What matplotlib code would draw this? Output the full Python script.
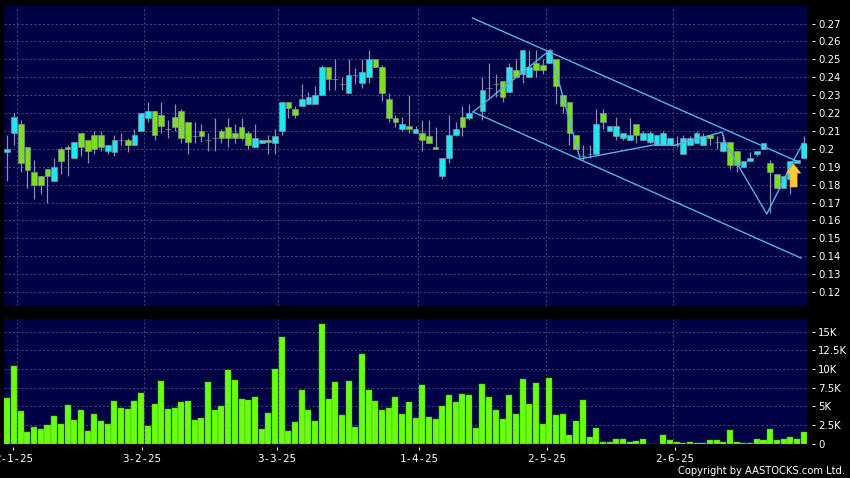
import numpy as np
import matplotlib
matplotlib.use("Agg")
import matplotlib.pyplot as plt
from matplotlib.ticker import FuncFormatter

nan = float("nan")
opens = [198,209,214,201,187,185,189,182,200,201,195,209,205,208,208,199,198,205,205,202,
         210,217,221,219,211,218,221,215,207,210,205,206,210,212,209,212,209,201,203,205,
         203,210,226,222,224,225,225,230,246,239,236,231,241,237,240,250,246,228,217,211,
         213,209,209,207,201,185,195,208,218,217,nan,221,234,236,238,232,244,242,240,248,
         247,248,250,230,226,208,196,197,197,220,210,207,206,205,214,205,204,202,202,202,
         202,197,202,203,202,208,204,199,204,199,190,193,197,200,192,186,178,183,192,195]
closes = [200,218,192,188,180,180,185,190,193,200,204,201,199,200,201,202,205,205,202,208,
          220,221,208,213,211,212,206,204,207,207,205,206,206,206,206,206,202,206,205,204,
          207,226,223,219,228,229,230,246,239,239,236,241,241,243,250,246,231,217,215,214,
          211,211,205,203,200,195,208,211,212,220,nan,233,234,236,229,246,240,255,246,244,
          244,255,235,224,209,200,196,197,214,215,213,213,209,208,208,209,209,208,209,206,
          202,206,206,209,207,206,204,204,191,191,193,195,199,203,187,178,185,193,194,203]
highs = [208,220,216,201,194,185,189,195,201,202,204,209,205,210,210,202,208,209,206,211,
         220,226,221,226,216,225,222,215,215,214,209,217,211,217,214,217,210,214,205,208,
         211,226,226,224,236,232,235,247,246,250,240,250,245,250,255,250,247,231,219,218,
         230,213,216,216,212,195,219,215,224,225,nan,240,248,242,238,248,250,255,255,255,
         250,255,250,230,226,208,202,202,222,222,213,218,209,217,214,210,210,208,210,206,
         207,208,207,210,209,208,207,208,204,199,193,198,199,203,194,186,185,193,194,207]
lows = [182,202,187,178,172,175,170,182,186,185,195,196,192,197,199,197,196,202,198,202,
        210,215,205,209,206,210,203,197,203,204,199,199,203,201,203,205,200,201,203,197,
        197,208,217,217,224,225,225,230,233,233,233,231,236,234,237,246,227,215,212,210,
        209,209,199,203,200,183,192,207,207,216,nan,216,229,229,226,232,240,237,240,240,
        242,248,225,220,202,200,194,195,197,211,210,205,205,205,203,205,203,202,202,202,
        201,197,202,203,202,202,200,198,189,187,190,193,196,200,164,178,178,175,192,195]
volumes = [6080,10450,4325,1577,2162,1937,2478,3694,2613,5180,3108,4460,1712,3964,3063,2658,5721,4775,4595,5721,
           6757,2342,5270,8379,4595,4775,5586,5676,3198,3424,8289,4550,5045,9820,8560,5992,5811,6172,1937,4054,
           9956,14236,1667,2883,7163,4505,2973,15993,5992,8199,3784,8424,2162,12073,7208,5676,4460,4775,6217,3919,
           5586,3424,7884,3514,3289,5045,6487,5541,6667,6532,2072,7974,6172,4460,3244,6532,3919,8695,5361,8109,
           2568,8830,3829,3919,1171,3018,5857,901,2072,180,135,541,631,180,270,541,0,0,1081,450,
           180,90,135,45,45,450,450,180,1757,180,45,45,541,450,1937,450,586,811,586,1487]

date_labels = ["2-1-25", "3-2-25", "3-3-25", "1-4-25", "2-5-25", "2-6-25"]
date_ticks = [0.88, 20.07, 40.3, 61.5, 80.65, 99.8]
date_grid = [1.48, 20.4, 40.5, 61.4, 80.5, 99.5]
price_ticks = [0.12,0.13,0.14,0.15,0.16,0.17,0.18,0.19,0.20,0.21,0.22,0.23,0.24,0.25,0.26,0.27]
volume_ticks = [0, 2500, 5000, 7500, 10000, 12500, 15000]
volume_labels = ["0", "2.5K", "5K", "7.5K", "10K", "12.5K", "15K"]

zig_x = [69.6, 81.1, 85.6, 96.5, 99.8, 106.8, 107.3, 109.1, 113.5, 117.5, 118.9]
zig_y = [0.2206, 0.2552, 0.1944, 0.2021, 0.2021, 0.2094, 0.2032, 0.1915, 0.1636, 0.1937, 0.2032]
chan_top_x = [69.5, 118.3]
chan_top_y = [0.2731, 0.1926]
chan_bot_x = [69.6, 118.6]
chan_bot_y = [0.2206, 0.1390]
signal_x = 117.5
signal_tip = 0.1915
signal_tail = 0.1787

NAVY = "#000044"
GRID = "#45457C"
CYAN = "#22E4F2"
GREEN = "#7CDE1E"
EDGE = "#7F9A9A"
WICK = "#8E8EA4"
LINE = "#55B4E6"
VOL = "#6AFF10"
VOL_EDGE = "#48B810"

W, H = 850, 478
fig = plt.figure(figsize=(W / 100, H / 100), dpi=100, facecolor="black")

def panel(left, top, right, bottom):
    return fig.add_axes([left / W, 1 - bottom / H, (right - left) / W, (bottom - top) / H])

ax = panel(4, 6, 807, 306)
vx = panel(4, 319, 807, 443.5)

o = np.array(opens) / 1000
c = np.array(closes) / 1000
hi = np.array(highs) / 1000
lo = np.array(lows) / 1000
idx = np.arange(len(o))
up = c >= o
dn = c < o

for a in (ax, vx):
    a.set_facecolor(NAVY)
    a.set_xlim(-0.5, 119.5)
    for s in a.spines.values():
        s.set_visible(False)
    a.spines["right"].set_visible(True)
    a.spines["right"].set_position(("outward", 3.4))
    a.spines["right"].set_alpha(0)
    a.yaxis.tick_right()
    a.tick_params(axis="y", colors="white", length=1.9, width=0.7, pad=2.6, labelsize=7.3)
    a.set_axisbelow(True)
    a.grid(False)
    a.vlines(date_grid, 0, 1, transform=a.get_xaxis_transform(), colors=GRID,
             linewidth=0.7, linestyles=(0, (2.2, 2.2)), zorder=0)

ax.set_ylim(0.1122, 0.2798)
ax.set_yticks(price_ticks)
ax.yaxis.set_major_formatter(FuncFormatter(lambda v, _: f"{v:.2f}".rstrip("0") if round(v * 100) % 10 == 0 else f"{v:.2f}"))
ax.set_xticks([])
ax.grid(True, axis="y", color=GRID, linewidth=0.7, linestyle=(0, (2.2, 2.2)))

ax.vlines(idx, lo, hi, colors=WICK, linewidth=0.9, zorder=2)
bottoms = np.minimum(o, c)
heights = np.abs(c - o)
ax.bar(idx[up], heights[up], bottom=bottoms[up], width=0.86, color=CYAN, edgecolor=EDGE, linewidth=0.45, zorder=3)
ax.bar(idx[dn], heights[dn], bottom=bottoms[dn], width=0.86, color=GREEN, edgecolor=EDGE, linewidth=0.45, zorder=3)

ax.plot(chan_top_x, chan_top_y, color=LINE, linewidth=1.0, zorder=4)
ax.plot(chan_bot_x, chan_bot_y, color=LINE, linewidth=1.0, zorder=4)
ax.plot(zig_x, zig_y, color=LINE, linewidth=1.0, zorder=4)

ax.annotate("", xy=(signal_x, signal_tip), xytext=(signal_x, signal_tail),
            arrowprops=dict(arrowstyle="simple,head_length=6.5,head_width=10,tail_width=5",
                            mutation_scale=1, shrinkA=0, shrinkB=0,
                            facecolor="#FFCB3C", edgecolor="#FFB020", linewidth=0.5),
            zorder=5)

vx.set_ylim(0, 16704)
vx.set_yticks(volume_ticks)
vx.set_yticklabels(volume_labels)
vx.grid(True, axis="y", color=GRID, linewidth=0.7, linestyle=(0, (2.2, 2.2)))
vx.bar(idx, volumes, width=0.9, color=VOL, edgecolor=VOL_EDGE, linewidth=0.35, zorder=3)

vx.spines["bottom"].set_visible(True)
vx.spines["bottom"].set_position(("outward", 2.3))
vx.spines["bottom"].set_alpha(0)
vx.set_xticks(date_ticks)
vx.set_xticklabels(date_labels, family="DejaVu Sans Mono", fontsize=7.8, color="white")
vx.tick_params(axis="x", colors="white", length=1.9, width=0.7, pad=3.0)

fig.text(845 / W, 1 - 471 / H, "Copyright by AASTOCKS.com Ltd.", color="white",
         fontsize=7.2, ha="right", va="center")

fig.savefig("out.png", dpi=100, facecolor="black")
